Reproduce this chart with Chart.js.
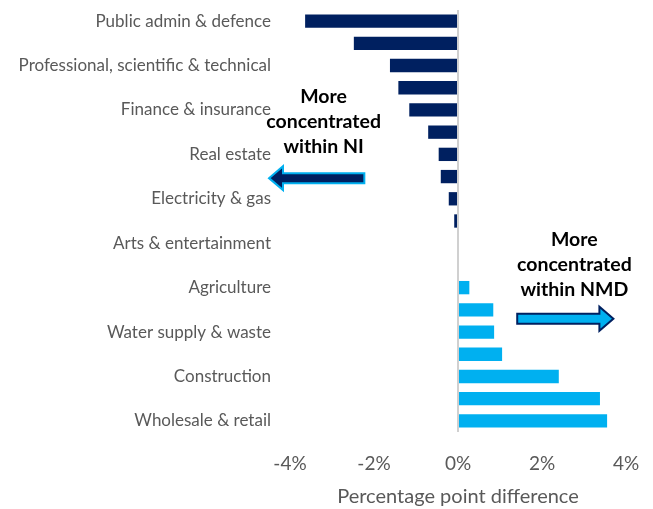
<!DOCTYPE html>
<html>
<head>
<meta charset="utf-8">
<script src="https://cdn.jsdelivr.net/npm/chart.js@4.4.0/dist/chart.umd.min.js"></script>
<style>
  html, body { margin: 0; padding: 0; background: #fff; }
  #wrap { width: 653px; height: 509px; }
</style>
</head>
<body>
<div id="wrap"><canvas id="sectorChart"></canvas></div>
<script>
// Sectors, top to bottom; only every other one gets a visible label
const sectors = [
    'Public admin & defence', 'Education',
    'Professional, scientific & technical', 'Information & communication',
    'Finance & insurance', 'Admin & support services',
    'Real estate', 'Health & social work',
    'Electricity & gas', 'Mining & quarrying',
    'Arts & entertainment', 'Other services',
    'Agriculture', 'Accommodation & food',
    'Water supply & waste', 'Transport & storage',
    'Construction', 'Manufacturing',
    'Wholesale & retail'
];
// Percentage point difference in sector share (NMD minus NI)
const ppDiff = [
    -3.64, -2.48, -1.62, -1.42, -1.16, -0.71, -0.46, -0.41, -0.22, -0.09,
    0, 0, 0.27, 0.84, 0.86, 1.05, 2.40, 3.38, 3.55
];
const xTicks = [-4, -2, 0, 2, 4];

const NAVY = '#002060';
const SKY = '#00B0F0';
const FONT = "Lato, 'Open Sans', sans-serif";

// Arrow shape: shaft plus triangular head, pointing left or right
function drawArrow(ctx, xTail, xTip, y, fill, stroke) {
    const dir = xTip > xTail ? 1 : -1;
    const headLen = 14, headHalf = 12, shaftHalf = 5;
    const xBase = xTip - dir * headLen;
    ctx.save();
    ctx.beginPath();
    ctx.moveTo(xTail, y - shaftHalf);
    ctx.lineTo(xBase, y - shaftHalf);
    ctx.lineTo(xBase, y - headHalf);
    ctx.lineTo(xTip, y);
    ctx.lineTo(xBase, y + headHalf);
    ctx.lineTo(xBase, y + shaftHalf);
    ctx.lineTo(xTail, y + shaftHalf);
    ctx.closePath();
    ctx.fillStyle = fill;
    ctx.fill();
    ctx.lineWidth = 2;
    ctx.strokeStyle = stroke;
    ctx.stroke();
    ctx.restore();
}

const notesPlugin = {
    id: 'notes',
    afterDatasetsDraw(chart) {
        const { ctx, scales: { x, y } } = chart;
        ctx.save();
        ctx.font = "bold 19.5px " + FONT;
        ctx.fillStyle = '#000';
        ctx.textAlign = 'center';
        ctx.textBaseline = 'middle';
        const left = ['More', 'concentrated', 'within NI'];
        const right = ['More', 'concentrated', 'within NMD'];
        const lx = x.getPixelForValue(-3.2), ly = y.getPixelForValue(3.4);
        left.forEach((t, i) => ctx.fillText(t, lx, ly + i * 25));
        const rx = x.getPixelForValue(2.77), ry = y.getPixelForValue(9.85);
        right.forEach((t, i) => ctx.fillText(t, rx, ry + i * 25));
        ctx.restore();
        drawArrow(ctx, x.getPixelForValue(-2.23), x.getPixelForValue(-4.5),
            y.getPixelForValue(7.07), NAVY, SKY);
        drawArrow(ctx, x.getPixelForValue(1.41), x.getPixelForValue(3.7),
            y.getPixelForValue(13.4), SKY, NAVY);
    }
};

new Chart(document.getElementById('sectorChart'), {
    type: 'bar',
    data: {
        labels: sectors,
        datasets: [{
            data: ppDiff,
            backgroundColor: ppDiff.map(v => v < 0 ? NAVY : SKY),
            barPercentage: 0.6,
            categoryPercentage: 1
        }]
    },
    options: {
        indexAxis: 'y',
        responsive: true,
        maintainAspectRatio: false,
        animation: false,
        layout: { padding: { top: 10, right: 27, bottom: 0, left: 0 } },
        plugins: {
            legend: { display: false },
            tooltip: { enabled: false }
        },
        scales: {
            x: {
                min: -4,
                max: 4,
                afterBuildTicks: scale => { scale.ticks = xTicks.map(v => ({ value: v })); },
                afterFit: scale => {
                    scale.height = 77;
                    scale.paddingLeft = 0;
                    scale.paddingRight = 0;
                },
                border: { display: false },
                grid: {
                    drawTicks: false,
                    color: c => c.tick && c.tick.value === 0 ? '#d0d0d0' : 'rgba(0,0,0,0)',
                    lineWidth: 2
                },
                ticks: {
                    padding: 20,
                    color: '#595959',
                    font: { family: FONT, size: 19 },
                    callback: v => v + '%'
                },
                title: {
                    display: true,
                    text: 'Percentage point difference',
                    color: '#595959',
                    font: { family: FONT, size: 20 },
                    padding: { top: 8, bottom: 0 }
                }
            },
            y: {
                afterFit: scale => {
                    scale.width = 290;
                    scale.paddingTop = 0;
                    scale.paddingBottom = 0;
                },
                border: { display: false },
                grid: { display: false, drawTicks: false },
                ticks: {
                    autoSkip: false,
                    padding: 19,
                    color: '#595959',
                    font: { family: FONT, size: 17 },
                    callback: (v, i) => i % 2 === 0 ? sectors[i] : ''
                }
            }
        }
    },
    plugins: [notesPlugin]
});
</script>
</body>
</html>
